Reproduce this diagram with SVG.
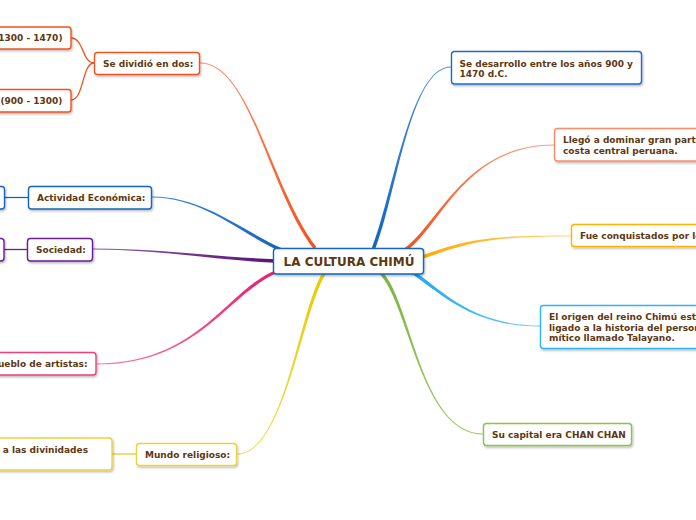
<svg xmlns="http://www.w3.org/2000/svg" width="696" height="520" viewBox="0 0 696 520">
<style>
.t{font-family:"DejaVu Sans","Verdana",sans-serif;font-weight:bold;font-size:9px;fill:#5D3811}
.c{font-size:12px}
.e{text-anchor:end}
.m{text-anchor:middle}
.box{fill:#ffffff;stroke-width:1.4;filter:url(#sh)}
.sub{fill:none;stroke-width:1.3}
</style>
<defs>
<filter id="sh" x="-10%" y="-20%" width="130%" height="160%">
<feDropShadow dx="1" dy="1.5" stdDeviation="0.8" flood-color="#000" flood-opacity="0.28"/>
</filter>
<linearGradient id="gOr" gradientUnits="userSpaceOnUse" x1="315" y1="248" x2="200" y2="63"><stop offset="0" stop-color="#F4511E"/><stop offset="1" stop-color="#FF8A65"/></linearGradient>
<linearGradient id="gBl" gradientUnits="userSpaceOnUse" x1="282" y1="250" x2="152" y2="197"><stop offset="0" stop-color="#1565C0"/><stop offset="1" stop-color="#3D85E0"/></linearGradient>
<linearGradient id="gPu" gradientUnits="userSpaceOnUse" x1="275" y1="261" x2="93" y2="249"><stop offset="0" stop-color="#5A1476"/><stop offset="1" stop-color="#8E5BA8"/></linearGradient>
<linearGradient id="gPi" gradientUnits="userSpaceOnUse" x1="278" y1="271" x2="97" y2="364"><stop offset="0" stop-color="#EC1C6C"/><stop offset="1" stop-color="#F27AA8"/></linearGradient>
<linearGradient id="gYe" gradientUnits="userSpaceOnUse" x1="325" y1="272" x2="237" y2="454"><stop offset="0" stop-color="#E6CC00"/><stop offset="1" stop-color="#F0DD55"/></linearGradient>
<linearGradient id="gB2" gradientUnits="userSpaceOnUse" x1="373" y1="250" x2="451" y2="67"><stop offset="0" stop-color="#1565C0"/><stop offset="1" stop-color="#4A8FE0"/></linearGradient>
<linearGradient id="gSa" gradientUnits="userSpaceOnUse" x1="405" y1="250" x2="554" y2="145"><stop offset="0" stop-color="#F4511E"/><stop offset="1" stop-color="#FF9E80"/></linearGradient>
<linearGradient id="gAm" gradientUnits="userSpaceOnUse" x1="420" y1="258" x2="571" y2="236"><stop offset="0" stop-color="#FFAA00"/><stop offset="1" stop-color="#FFD27A"/></linearGradient>
<linearGradient id="gLb" gradientUnits="userSpaceOnUse" x1="412" y1="272" x2="540" y2="326"><stop offset="0" stop-color="#1EA8F0"/><stop offset="1" stop-color="#6CC8F5"/></linearGradient>
<linearGradient id="gGr" gradientUnits="userSpaceOnUse" x1="380" y1="272" x2="483" y2="434"><stop offset="0" stop-color="#7CB342"/><stop offset="1" stop-color="#A5D06B"/></linearGradient>
</defs>

<g id="connectors">
<path fill="url(#gOr)" d="M316.3,247 C271.3,189 250,62.5 200,62.5 L200,63.5 C250,63.5 268.7,191 313.7,249 Z"/>
<path fill="url(#gBl)" d="M282.6,248.4 C245.6,233.4 205,196.5 152,196.5 L152,197.5 C205,197.5 244.4,236.6 281.4,251.6 Z"/>
<path fill="url(#gPu)" d="M275.1,259.3 C220.1,257.3 160,248.5 93,248.5 L93,249.5 C160,249.5 219.9,260.7 274.9,262.7 Z"/>
<path fill="url(#gPi)" d="M277.4,269.4 C227.4,288.4 200,363.5 97,363.5 L97,364.5 C200,364.5 228.6,291.6 278.6,272.6 Z"/>
<path fill="url(#gYe)" d="M323.6,271.1 C298.6,309.1 285,453.5 237,453.5 L237,454.5 C285,454.5 301.4,310.9 326.4,272.9 Z"/>
<path fill="url(#gB2)" d="M374.6,250.6 C396.6,195.6 410,67.5 451,67.5 L451,66.5 C410,66.5 393.4,194.4 371.4,249.4 Z"/>
<path fill="url(#gSa)" d="M406,251.4 C441,226.4 465,145.5 554,145.5 L554,144.5 C465,144.5 439,223.6 404,248.6 Z"/>
<path fill="url(#gAm)" d="M420.6,259.6 C470.6,241.6 490,236.5 571,236.5 L571,235.5 C490,235.5 469.4,238.4 419.4,256.4 Z"/>
<path fill="url(#gLb)" d="M411.1,273.4 C439.1,291.4 470,326.5 540,326.5 L540,325.5 C470,325.5 440.9,288.6 412.9,270.6 Z"/>
<path fill="url(#gGr)" d="M378.8,273.2 C408.8,301.2 420,434.5 483,434.5 L483,433.5 C420,433.5 411.2,298.8 381.2,270.8 Z"/>
<path class="sub" stroke="#F4511E" d="M94,63 C82,63 84,38 71,38"/>
<path class="sub" stroke="#F4511E" d="M94,63 C82,63 84,100 71,100"/>
<path class="sub" stroke="#1565C0" d="M4,197.5 L28,197.5"/>
<path class="sub" stroke="#6A1B9A" d="M4,249.5 L27,249.5"/>
<path class="sub" stroke="#E8CF20" d="M112,454 L136,454"/>
</g>

<g id="n_tardio"><rect class="box" stroke="#F4511E" x="-10" y="27" width="81" height="22" rx="3"/><text class="t e" x="62.5" y="41.2">(1300 - 1470)</text></g>
<g id="n_temprano"><rect class="box" stroke="#F4511E" x="-10" y="89.5" width="81" height="22.5" rx="3"/><text class="t e" x="62.5" y="104">(900 - 1300)</text></g>
<g id="n_dividio"><rect class="box" stroke="#F4511E" x="94.5" y="52.5" width="105" height="22" rx="3"/><text class="t" x="103" y="66.8">Se dividió en dos:</text></g>
<g id="n_act_sub"><rect class="box" stroke="#1565C0" x="-10" y="186.5" width="14.5" height="22.5" rx="3"/></g>
<g id="n_actividad"><rect class="box" stroke="#1565C0" x="28.5" y="186.5" width="123" height="22.5" rx="3"/><text class="t" x="37" y="201">Actividad Económica:</text></g>
<g id="n_soc_sub"><rect class="box" stroke="#6A1B9A" x="-10" y="238.5" width="14" height="22.5" rx="3"/></g>
<g id="n_sociedad"><rect class="box" stroke="#6A1B9A" x="27.5" y="238.5" width="65" height="22.5" rx="3"/><text class="t" x="36" y="253">Sociedad:</text></g>
<g id="n_pueblo"><rect class="box" stroke="#EC407A" x="-10" y="352.5" width="106" height="22.5" rx="3"/><text class="t e" x="87.5" y="367">Pueblo de artistas:</text></g>
<g id="n_divinidades"><rect class="box" stroke="#EDD23A" x="-10" y="438" width="122" height="32" rx="3"/><text class="t e" x="88" y="452.5">a las divinidades</text></g>
<g id="n_mundo"><rect class="box" stroke="#EDD23A" x="136.5" y="443.5" width="100" height="22" rx="3"/><text class="t" x="145" y="458">Mundo religioso:</text></g>

<g id="n_desarrollo"><rect class="box" stroke="#1E6ACF" x="451.5" y="51.5" width="190" height="32.5" rx="3"/><text class="t" x="459.5" y="66.5">Se desarrollo entre los años 900 y</text><text class="t" x="459.5" y="77">1470 d.C.</text></g>
<g id="n_llego"><rect class="box" stroke="#FF8A65" x="554.5" y="128.5" width="160" height="32.5" rx="3"/><text class="t" x="563" y="143">Llegó a dominar gran parte</text><text class="t" x="563" y="153.5">costa central peruana.</text></g>
<g id="n_fue"><rect class="box" stroke="#FFB300" x="571.5" y="224.5" width="150" height="22" rx="3"/><text class="t" x="580" y="239">Fue conquistados por lo</text></g>
<g id="n_origen"><rect class="box" stroke="#29B6F6" x="540.5" y="305.5" width="180" height="43" rx="3"/><text class="t" x="549" y="320">El origen del reino Chimú esta</text><text class="t" x="549" y="330.5">ligado a la historia del person</text><text class="t" x="549" y="341">mítico llamado Talayano.</text></g>
<g id="n_capital"><rect class="box" stroke="#8BC34A" x="483.5" y="423.5" width="148" height="22" rx="3"/><text class="t" x="492" y="438">Su capital era CHAN CHAN</text></g>

<g id="n_center"><rect class="box" stroke="#1565C0" x="273.5" y="248.5" width="150" height="25.5" rx="3"/><text class="t c m" x="349" y="265.5">LA CULTURA CHIMÚ</text></g>
</svg>
